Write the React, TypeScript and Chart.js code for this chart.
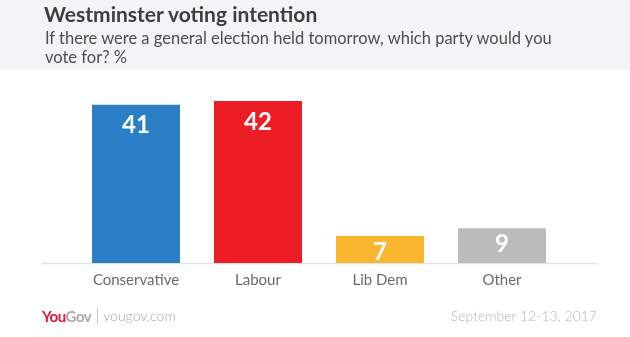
import React, { useEffect, useRef } from "react";
import { Chart, registerables } from "chart.js";

Chart.register(...registerables);

const categories = ["Conservative", "Labour", "Lib Dem", "Other"];
const values = [41, 42, 7, 9];
const barColors = ["#2b7fc6", "#ec1c24", "#fbb62f", "#bcbbbb"];
const titleText = "Westminster voting intention";
const subtitleLine1 = "If there were a general election held tomorrow, which party would you";
const subtitleLine2 = "vote for? %";
const footerSite = "yougov.com";
const footerDate = "September 12-13, 2017";

const FONT = "Lato, 'Open Sans', sans-serif";

const baselinePlugin = {
  id: "baselineExt",
  beforeDatasetsDraw(chart: any) {
    const { ctx, scales } = chart;
    const y = scales.y.getPixelForValue(0);
    ctx.save();
    ctx.strokeStyle = "#e2e2e2";
    ctx.lineWidth = 1.5;
    ctx.beginPath();
    ctx.moveTo(42, y + 0.5);
    ctx.lineTo(597, y + 0.5);
    ctx.stroke();
    ctx.restore();
  },
};

const valueLabelPlugin = {
  id: "valueLabels",
  afterDatasetsDraw(chart: any) {
    const { ctx } = chart;
    const meta = chart.getDatasetMeta(0);
    const data = chart.data.datasets[0].data as number[];
    ctx.save();
    ctx.fillStyle = "#ffffff";
    ctx.font = `bold 24px ${FONT}`;
    ctx.textAlign = "center";
    ctx.textBaseline = "top";
    meta.data.forEach((bar: any, i: number) => {
      const h = bar.base - bar.y;
      const off = h > 60 ? 9 : 4;
      ctx.fillText(String(data[i]), bar.x, bar.y + off);
    });
    ctx.restore();
  },
};

export default function App() {
  const canvasRef = useRef<HTMLCanvasElement | null>(null);

  useEffect(() => {
    document.body.style.margin = "0";
    const canvas = canvasRef.current;
    if (!canvas) return;
    const chart = new Chart(canvas, {
      type: "bar",
      data: {
        labels: categories,
        datasets: [
          {
            data: values,
            backgroundColor: barColors,
            borderWidth: 0,
            barPercentage: 1,
            categoryPercentage: 88 / 122,
          },
        ],
      },
      options: {
        responsive: false,
        animation: false,
        events: [],
        layout: { padding: { left: 75, right: 67, top: 70, bottom: 40 } },
        plugins: {
          legend: { display: false },
          tooltip: { enabled: false },
          title: { display: false },
        },
        scales: {
          x: {
            grid: { display: false, drawTicks: false },
            border: { display: false },
            ticks: {
              color: "#6a6a6a",
              font: { family: FONT, size: 15 },
              padding: 8,
            },
          },
          y: {
            display: false,
            min: 0,
            max: 50,
          },
        },
      },
      plugins: [baselinePlugin, valueLabelPlugin],
    });
    return () => chart.destroy();
  }, []);

  return (
    <div
      style={{
        position: "absolute",
        left: 0,
        top: 0,
        width: 630,
        height: 337,
        background: "#ffffff",
        fontFamily: FONT,
        overflow: "hidden",
      }}
    >
      <div
        style={{
          position: "absolute",
          left: 0,
          top: 0,
          width: 630,
          height: 70,
          background: "#f3f4f6",
        }}
      />
      <canvas
        ref={canvasRef}
        width={630}
        height={337}
        style={{ position: "absolute", left: 0, top: 0, width: 630, height: 337 }}
      />
      <div
        style={{
          position: "absolute",
          left: 44,
          top: 1,
          fontSize: 21,
          fontWeight: 700,
          color: "#3d3d3d",
          lineHeight: "25px",
          whiteSpace: "nowrap",
        }}
      >
        {titleText}
      </div>
      <div
        style={{
          position: "absolute",
          left: 45,
          top: 29,
          fontSize: 16.5,
          color: "#4d4d4d",
          lineHeight: "19px",
          whiteSpace: "nowrap",
        }}
      >
        {subtitleLine1}
        <br />
        {subtitleLine2}
      </div>
      <div
        style={{
          position: "absolute",
          left: 42,
          top: 307,
          fontSize: 15,
          lineHeight: "18px",
          whiteSpace: "nowrap",
          display: "flex",
          alignItems: "center",
        }}
      >
        <span style={{ color: "#e3133a", fontWeight: 700, letterSpacing: -0.5 }}>You</span>
        <span style={{ color: "#a9a9a9", fontWeight: 700, letterSpacing: -0.5 }}>Gov</span>
        <span
          style={{
            display: "inline-block",
            width: 1,
            height: 16,
            background: "#cccccc",
            margin: "0 5px 0 6px",
          }}
        />
        <span style={{ color: "#a5a5a5", fontWeight: 300, fontSize: 14 }}>{footerSite}</span>
      </div>
      <div
        style={{
          position: "absolute",
          right: 33,
          top: 307,
          fontSize: 14,
          lineHeight: "18px",
          color: "#b5b5b5",
          fontWeight: 300,
          whiteSpace: "nowrap",
        }}
      >
        {footerDate}
      </div>
    </div>
  );
}
